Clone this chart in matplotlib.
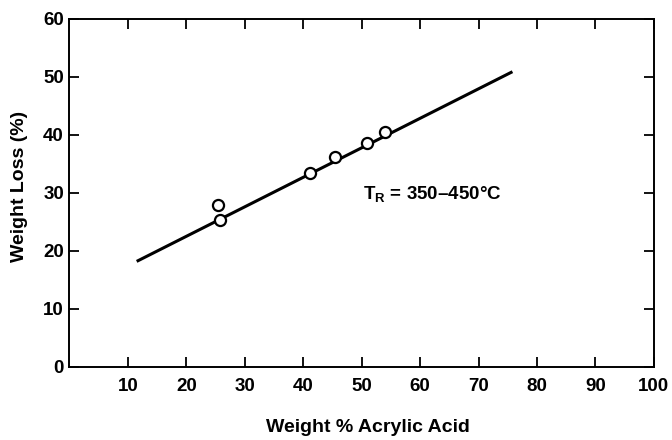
import matplotlib
matplotlib.use("Agg")
import matplotlib.pyplot as plt

acrylic_pct = [25.4, 25.7, 41.1, 45.4, 50.9, 54.0]
weight_loss = [27.9, 25.3, 33.4, 36.2, 38.6, 40.5]

# fitted line end points
fit_x = [11.5, 75.8]
fit_y = [18.2, 50.9]

x_ticks = [10, 20, 30, 40, 50, 60, 70, 80, 90, 100]
y_ticks = [0, 10, 20, 30, 40, 50, 60]

plt.rcParams["font.family"] = ["Liberation Sans", "DejaVu Sans"]
plt.rcParams["font.weight"] = "bold"
plt.rcParams["mathtext.fontset"] = "custom"
plt.rcParams["mathtext.bf"] = "Liberation Sans:bold"
plt.rcParams["mathtext.rm"] = "Liberation Sans:bold"

fig = plt.figure(figsize=(6.72, 4.40), dpi=100)
ax = fig.add_axes([0.1034, 0.166, 0.8696, 0.791])

ax.plot(fit_x, fit_y, color="black", lw=2.2, solid_capstyle="butt", zorder=2)
ax.plot(acrylic_pct, weight_loss, "o", ms=8, mfc="white", mec="black",
        mew=1.6, zorder=3)

ax.text(50.2, 29.7, r"T$_\mathrm{R}$ = 350–450°C", fontsize=13.5,
        fontweight="bold", va="center", ha="left")

ax.set_xlim(0, 100)
ax.set_ylim(0, 60)
ax.set_xticks(x_ticks)
ax.set_yticks(y_ticks)
ax.tick_params(direction="in", length=7, width=1.3, top=True, right=True,
               labelsize=13.5)
ax.tick_params(axis="x", pad=8)
ax.tick_params(axis="y", pad=4)
for s in ax.spines.values():
    s.set_linewidth(1.4)

ax.set_xlabel("Weight % Acrylic Acid", fontsize=14, fontweight="bold",
              va="center")
ax.set_ylabel("Weight Loss (%)", fontsize=14, fontweight="bold",
              va="center")
ax.xaxis.set_label_coords(0.51, -0.174)
ax.yaxis.set_label_coords(-0.086, 0.52)

fig.savefig("out.png", dpi=100)
